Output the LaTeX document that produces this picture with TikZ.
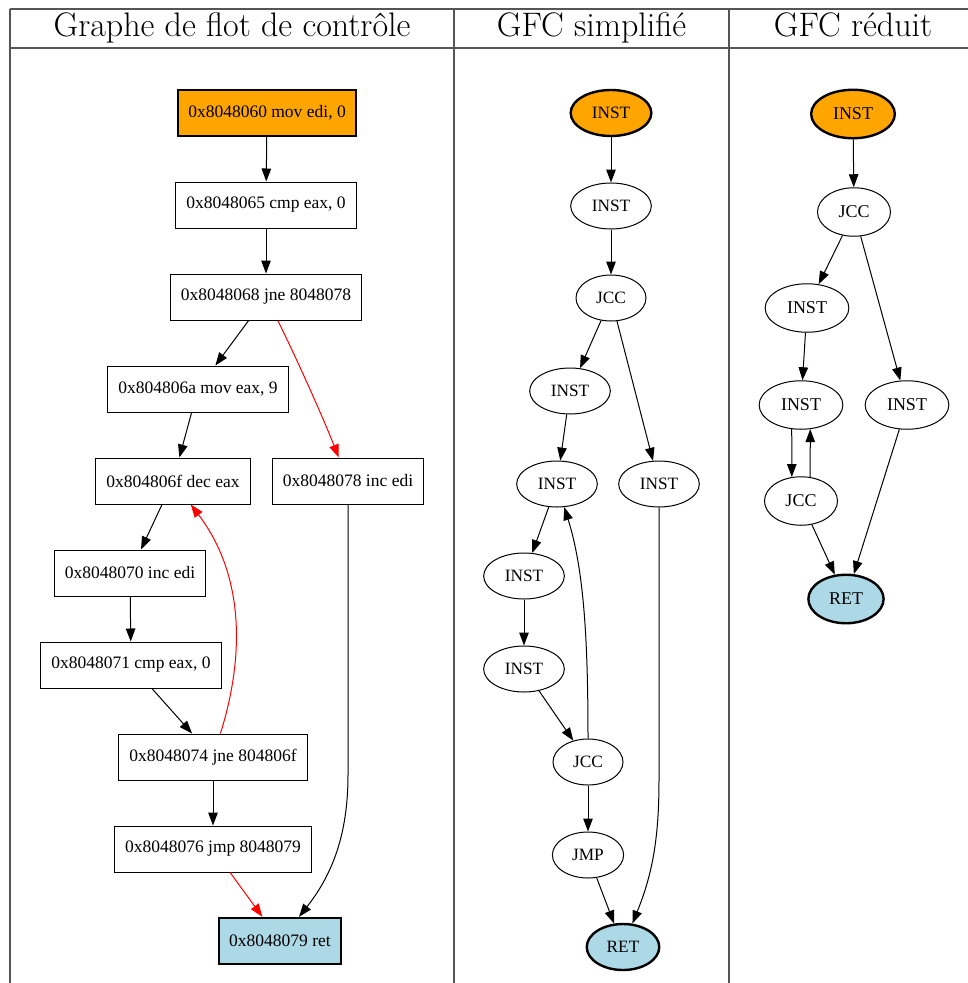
\documentclass[tikz,border=0pt]{standalone}
\usepackage{fontspec}
\newfontfamily\gvfont{Liberation Serif}
\usetikzlibrary{arrows.meta,shapes.geometric}
\definecolor{gvorange}{HTML}{FFA500}
\definecolor{gvblue}{HTML}{ADD8E6}
\definecolor{rulegray}{HTML}{555555}
\begin{document}
\begin{tikzpicture}[x=1pt,y=-1pt,
  rulel/.style={draw=rulegray, line width=1.1pt},
  head/.style={anchor=base, font=\fontsize{34}{40}\selectfont, inner sep=0pt},
  box/.style={draw, rectangle, line width=1pt, minimum height=46pt, inner xsep=10.5pt, inner ysep=0pt, font=\gvfont\fontsize{17.5}{20}\selectfont},
  startbox/.style={box, fill=gvorange, line width=2.4pt},
  endbox/.style={box, fill=gvblue, line width=2.4pt},
  oval/.style={draw, ellipse, line width=1pt, minimum width=70pt, minimum height=46pt, inner xsep=9.3pt, inner ysep=0pt, font=\gvfont\fontsize{17.3}{20}\selectfont},
  startoval/.style={oval, fill=gvorange, line width=2.4pt},
  endoval/.style={oval, fill=gvblue, line width=2.4pt},
  ovalc/.style={draw, ellipse, line width=1pt, minimum width=73pt, minimum height=48.5pt, inner xsep=9.6pt, inner ysep=0pt, font=\gvfont\fontsize{18}{20}\selectfont},
  startovalc/.style={ovalc, fill=gvorange, line width=2.4pt},
  endovalc/.style={ovalc, fill=gvblue, line width=2.4pt},
  edge/.style={-{Triangle[length=13pt,width=9.5pt]}, line width=1pt},
  redge/.style={edge, red}]
\useasboundingbox (0,0) rectangle (968,983);
% table
\draw[rulel] (10,9) -- (968,9);
\draw[rulel] (10,48) -- (968,48);
\draw[rulel] (10,9) -- (10,983);
\draw[rulel] (454,9) -- (454,983);
\draw[rulel] (729,9) -- (729,983);
\node[head] (h1) at (232,36) {Graphe de flot de contrôle};
\node[head] (h2) at (591.5,36) {GFC simplifié};
\node[head] (h3) at (853,36) {GFC réduit};
% column 1
\node[startbox] (n1) at (267,113) {0x8048060 mov edi, 0};
\node[box] (n2) at (266,205) {0x8048065 cmp eax, 0};
\node[box] (n3) at (266,297) {0x8048068 jne 8048078};
\node[box] (n4) at (198,389) {0x804806a mov eax, 9};
\node[box] (n5) at (173,481) {0x804806f dec eax};
\node[box] (n6) at (348,481) {0x8048078 inc edi};
\node[box] (n7) at (130,573) {0x8048070 inc edi};
\node[box] (n8) at (131,665) {0x8048071 cmp eax, 0};
\node[box] (n9) at (213,757) {0x8048074 jne 804806f};
\node[box] (n10) at (213,849) {0x8048076 jmp 8048079};
\node[endbox] (n11) at (280,941) {0x8048079 ret};
\draw[edge] (n1) -- (n2);
\draw[edge] (n2) -- (n3);
\draw[edge] (n3) -- (n4);
\draw[redge] (n3) .. controls (295,355) and (322,415) .. (n6);
\draw[edge] (n4) -- (n5);
\draw[edge] (n5) -- (n7);
\draw[edge] (n7) -- (n8);
\draw[edge] (n8) -- (n9);
\draw[redge] (n9) .. controls (242,665) and (248,580) .. (n5);
\draw[edge] (n9) -- (n10);
\draw[redge] (n10) -- (n11);
\coordinate (c6) at (348,775);
\draw[edge] (n6.south) -- (c6) .. controls (348,835) and (332,875) .. (n11);
% column 2
\node[startoval] (e1) at (611,113) {INST};
\node[oval] (e2) at (611,206) {INST};
\node[oval] (e3) at (611,298) {JCC};
\node[oval] (e4) at (570,391) {INST};
\node[oval] (e5) at (557,484) {INST};
\node[oval] (e6) at (659,484) {INST};
\node[oval] (e7) at (524,576) {INST};
\node[oval] (e8) at (524,669) {INST};
\node[oval] (e9) at (588,762) {JCC};
\node[oval] (e10) at (588,855) {JMP};
\node[endoval] (e11) at (623,947) {RET};
\draw[edge] (e1) -- (e2);
\draw[edge] (e2) -- (e3);
\draw[edge] (e3) -- (e4);
\draw[edge] (e3) -- (e6);
\draw[edge] (e4) -- (e5);
\draw[edge] (e5) -- (e7);
\draw[edge] (e7) -- (e8);
\draw[edge] (e8) -- (e9);
\draw[edge] (e9.north) .. controls (588,640) and (584,570) .. (e5);
\draw[edge] (e9) -- (e10);
\draw[edge] (e10) -- (e11);
\coordinate (c7) at (659,780);
\draw[edge] (e6.south) -- (c7) .. controls (659,840) and (652,875) .. (e11);
% column 3
\node[startovalc] (f1) at (853,114) {INST};
\node[ovalc] (f2) at (854,212) {JCC};
\node[ovalc] (f3) at (807,308) {INST};
\node[ovalc] (f4) at (801,405) {INST};
\node[ovalc] (f5) at (907,405) {INST};
\node[ovalc] (f6) at (801,501) {JCC};
\node[endovalc] (f7) at (846,599) {RET};
\draw[edge] (f1) -- (f2);
\draw[edge] (f2) -- (f3);
\draw[edge] (f2) -- (f5);
\draw[edge] (f3) -- (f4);
\draw[edge] (f4.-111) -- (f6.111);
\draw[edge] (f6.69) -- (f4.-69);
\draw[edge] (f6) -- (f7);
\draw[edge] (f5) -- (f7);
\end{tikzpicture}
\end{document}
